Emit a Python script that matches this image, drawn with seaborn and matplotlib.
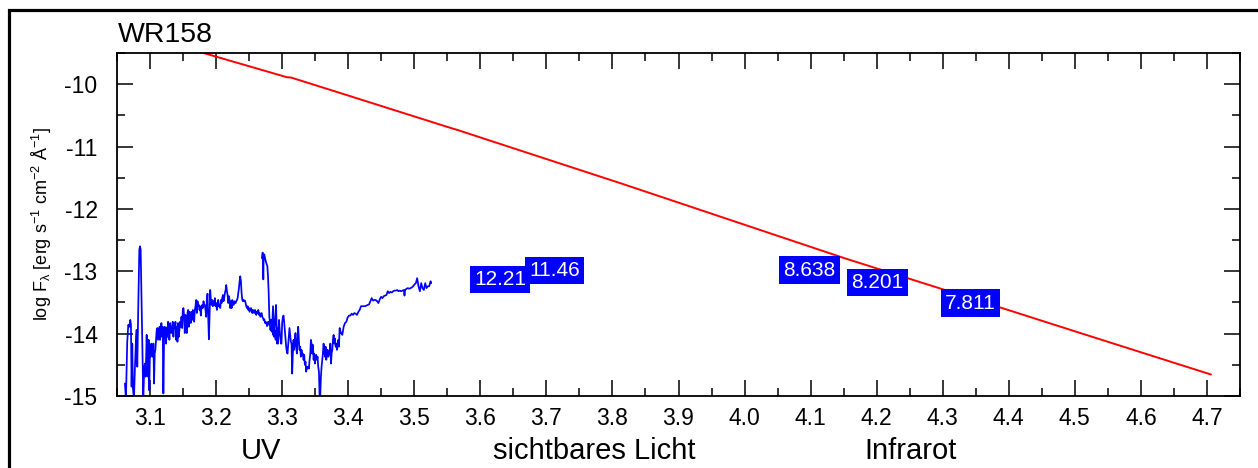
import numpy as np
import pandas as pd
import matplotlib
matplotlib.use("Agg")
import matplotlib.pyplot as plt
import seaborn as sns
from matplotlib.ticker import MultipleLocator
from matplotlib.patches import Rectangle

# ---------------- data ----------------
TITLE = "WR158"
REGION_LABELS = ["UV", "sichtbares Licht", "Infrarot"]
REGION_X = [3.2675, 3.772, 4.252]

# model continuum (red)
MODEL_LOGLAM = [3.181, 3.307, 3.314, 3.397, 3.560, 3.563, 3.817, 4.152, 4.384, 4.520, 4.706]
MODEL_LOGF = [-9.50, -9.888, -9.895, -10.172, -10.718, -10.726, -11.605, -12.793, -13.57, -14.03, -14.655]

# photometry labels (magnitudes)
PHOT_LABELS = ["12.21", "11.46", "8.638", "8.201", "7.811"]
PHOT_LOGLAM = [3.630, 3.712, 4.098, 4.201, 4.342]
PHOT_LOGF = [-13.13, -12.99, -12.98, -13.18, -13.51]

# short-wavelength UV spectrum
SWP_LOGLAM = [3.062, 3.0635, 3.0655, 3.0671, 3.0686, 3.0701, 3.0711, 3.0721, 3.0731, 3.0741,
              3.0757, 3.0772, 3.0787, 3.0797, 3.0807, 3.0822, 3.0838, 3.0848, 3.0858, 3.0873,
              3.0888, 3.0898, 3.0913, 3.0924, 3.0934, 3.0949, 3.0959, 3.0969, 3.0979, 3.0989,
              3.1000,
              3.1010, 3.1020, 3.1030, 3.1040, 3.1051, 3.1061, 3.1071, 3.1081, 3.1091, 3.1101,
              3.1111, 3.1121, 3.1132, 3.1142, 3.1152, 3.1162, 3.1172, 3.1182, 3.1192, 3.1202,
              3.1213, 3.1223, 3.1233, 3.1243, 3.1253, 3.1263, 3.1273, 3.1283, 3.1293, 3.1304,
              3.1314, 3.1324, 3.1334, 3.1344, 3.1354, 3.1364, 3.1374, 3.1385, 3.1395, 3.1405,
              3.1415, 3.1425, 3.1435, 3.1445, 3.1455, 3.1466, 3.1476, 3.1486, 3.1496, 3.1506,
              3.1516, 3.1526, 3.1536, 3.1546, 3.1557, 3.1567, 3.1577, 3.1587, 3.1597, 3.1607,
              3.1617, 3.1627, 3.1638, 3.1648, 3.1658, 3.1668, 3.1678, 3.1688, 3.1698, 3.1708,
              3.1719, 3.1729, 3.1739, 3.1749, 3.1759, 3.1769, 3.1779, 3.1789, 3.1799, 3.1810,
              3.1820, 3.1830, 3.1840, 3.1850, 3.1860, 3.1870, 3.1880, 3.1891, 3.1901, 3.1911,
              3.1921, 3.1931, 3.1941, 3.1951, 3.1961, 3.1972, 3.1982, 3.1992, 3.2002, 3.2012,
              3.2022, 3.2032, 3.2042, 3.2052, 3.2063, 3.2073, 3.2083, 3.2093, 3.2103, 3.2113,
              3.2123, 3.2133, 3.2144, 3.2154, 3.2164, 3.2174, 3.2184, 3.2194, 3.2204, 3.2214,
              3.2225, 3.2235, 3.2245, 3.2255, 3.2265, 3.2275, 3.2285, 3.2295, 3.2305, 3.2316,
              3.2326, 3.2336, 3.2346, 3.2356, 3.2366, 3.2376, 3.2386, 3.2397, 3.2407, 3.2417,
              3.2427, 3.2437, 3.2447, 3.2457, 3.2467, 3.2478, 3.2488, 3.2498, 3.2508, 3.2518,
              3.2528, 3.2538, 3.2548, 3.2558, 3.2569, 3.2579, 3.2589, 3.2599, 3.2609, 3.2619,
              3.2629, 3.2639, 3.2650, 3.2660, 3.2670, 3.2680, 3.2690, 3.2700, 3.2710, 3.2720,
              3.2731, 3.2741, 3.2751, 3.2761, 3.2771, 3.2781, 3.2791, 3.2801, 3.2811, 3.2822,
              3.2832, 3.2842, 3.2852, 3.2862, 3.2872, 3.2882, 3.2892, 3.2903, 3.2913, 3.2923,
              3.2933]
SWP_LOGF = [-14.80, -15.05, -14.13, -13.86, -13.89, -13.78, -13.86, -14.85, -14.16, -14.88,
            -15.05, -14.53, -14.10, -13.94, -14.53, -13.56, -12.65, -12.60, -12.65, -13.56,
            -14.53, -15.05, -14.53, -14.48, -14.69, -14.02, -14.48, -14.69, -14.10, -14.91,
            -14.21,
            -14.37, -14.16, -14.32, -14.37, -14.16, -14.80, -14.32, -14.26, -14.10, -13.94,
            -13.91, -14.10, -13.99, -13.89, -14.10, -13.97, -13.83, -14.05, -13.89, -14.96,
            -14.05, -13.89, -13.91, -14.16, -13.90, -14.05, -13.81, -13.94, -14.10, -13.83,
            -13.94, -13.99, -13.89, -13.81, -14.05, -13.86, -13.91, -13.81, -14.10, -13.89,
            -14.13, -13.83, -14.05, -13.94, -13.81, -13.89, -13.73, -13.91, -13.62, -13.59,
            -13.73, -13.99, -13.70, -13.78, -13.99, -13.67, -13.62, -13.89, -13.65, -13.75,
            -13.83, -13.65, -13.78, -13.62, -13.70, -13.81, -13.62, -13.56, -13.46, -13.67,
            -13.48, -13.56, -13.54, -13.62, -13.56, -13.71, -13.59, -13.54, -13.59, -13.48,
            -13.56, -13.54, -13.62, -13.73, -13.46, -13.36, -13.73, -14.09, -13.73, -13.30,
            -13.46, -13.54, -13.46, -13.56, -13.48, -13.54, -13.43, -13.56, -13.51, -13.62,
            -13.54, -13.46, -13.56, -13.54, -13.59, -13.46, -13.51, -13.43, -13.38, -13.48,
            -13.43, -13.35, -13.30, -13.22, -13.32, -13.38, -13.51, -13.40, -13.46, -13.59,
            -13.48, -13.59, -13.46, -13.51, -13.54, -13.48, -13.51, -13.51, -13.48, -13.46,
            -13.43, -13.35, -13.27, -13.16, -13.08, -13.16, -13.35, -13.46, -13.48, -13.46,
            -13.48, -13.47, -13.51, -13.56, -13.59, -13.56, -13.62, -13.59, -13.65, -13.62,
            -13.59, -13.62, -13.67, -13.62, -13.65, -13.67, -13.62, -13.65, -13.70, -13.65,
            -13.67, -13.62, -13.70, -13.67, -13.73, -13.70, -13.67, -13.73, -13.75, -13.78,
            -13.77, -13.83, -13.81, -13.83, -13.88, -13.82, -13.81, -13.86, -13.81, -13.94,
            -13.89, -13.97, -13.83, -14.02, -13.86, -13.94, -14.05, -14.10, -13.94, -14.16,
            -13.91]

# long-wavelength UV spectrum
LWP_LOGLAM = [3.2695, 3.2705, 3.2715, 3.2720, 3.2730, 3.2745, 3.2760, 3.2776, 3.2786, 3.2796,
              3.2806, 3.2816, 3.2831, 3.2847, 3.2862, 3.2877, 3.2892, 3.2907, 3.2922, 3.2937,
              3.2953, 3.2968, 3.2983,
              3.2990, 3.3000, 3.3010, 3.3020, 3.3030, 3.3040, 3.3051, 3.3061, 3.3071, 3.3081,
              3.3091, 3.3101, 3.3111, 3.3121, 3.3132, 3.3142, 3.3152, 3.3162, 3.3172, 3.3182,
              3.3192, 3.3202, 3.3213, 3.3223, 3.3233, 3.3243, 3.3253, 3.3263, 3.3273, 3.3283,
              3.3293, 3.3304, 3.3314, 3.3324, 3.3334, 3.3344, 3.3354, 3.3364, 3.3374, 3.3385,
              3.3395, 3.3405, 3.3415, 3.3425, 3.3435, 3.3445, 3.3455, 3.3466, 3.3476, 3.3486,
              3.3496, 3.3506, 3.3516, 3.3526, 3.3536, 3.3546, 3.3557, 3.3567, 3.3577, 3.3587,
              3.3597, 3.3607, 3.3617, 3.3627, 3.3638, 3.3648, 3.3658, 3.3668, 3.3678, 3.3688,
              3.3698, 3.3708, 3.3719, 3.3729, 3.3739, 3.3749, 3.3759, 3.3769, 3.3779, 3.3789,
              3.3800, 3.3810, 3.3820, 3.3830, 3.3840, 3.3850, 3.3860,
              3.3870, 3.3891, 3.3911, 3.3931, 3.3951, 3.3972, 3.3992, 3.4012, 3.4032, 3.4052,
              3.4073, 3.4093, 3.4113, 3.4133, 3.4154, 3.4174, 3.4194, 3.4214, 3.4235, 3.4255,
              3.4275, 3.4295, 3.4316, 3.4336, 3.4356, 3.4376, 3.4397, 3.4417, 3.4437, 3.4457,
              3.4478, 3.4498, 3.4518, 3.4538, 3.4558, 3.4579, 3.4599, 3.4619, 3.4639, 3.4660,
              3.4680, 3.4700, 3.4720, 3.4741, 3.4761, 3.4781, 3.4801, 3.4822, 3.4842, 3.4852,
              3.4862, 3.4882, 3.4903, 3.4923, 3.4943, 3.4963, 3.4984, 3.5004, 3.5024, 3.5044,
              3.5064, 3.5085, 3.5105, 3.5125, 3.5145, 3.5166, 3.5186, 3.5206, 3.5226, 3.5247,
              3.5257]
LWP_LOGF = [-12.79, -12.70, -13.13, -12.76, -12.73, -12.81, -12.87, -12.92, -13.08, -13.35,
            -13.73, -13.83, -13.78, -13.94, -13.56, -14.05, -13.83, -13.54, -14.05, -14.16,
            -13.78, -14.02, -14.16,
            -14.16, -13.83, -13.74, -13.71, -13.81, -13.94, -14.10, -14.21, -14.29, -14.32,
            -14.18, -14.05, -13.91, -14.02, -14.13, -14.16, -14.64, -14.32, -14.10, -14.26,
            -14.10, -13.99, -14.21, -14.32, -14.10, -13.89, -14.10, -14.26, -14.21, -14.37,
            -14.26, -14.34, -14.32, -14.42, -14.34, -14.50, -14.45, -14.61, -14.53, -14.56,
            -14.53, -14.56, -14.42, -14.34, -14.10, -14.16, -14.32, -14.18, -14.42, -14.32,
            -14.48, -14.37, -14.34, -14.42, -14.37, -14.53, -14.61, -15.02, -14.99, -14.69,
            -14.53, -14.42, -14.32, -14.16, -14.26, -14.37, -14.21, -14.42, -14.32, -14.26,
            -14.37, -14.34, -14.29, -14.16, -14.48, -14.32, -14.26, -14.10, -14.02, -14.16,
            -14.08, -14.21, -14.16, -14.26, -14.18, -14.10, -14.21,
            -13.91, -13.99, -14.02, -13.89, -13.83, -13.81, -13.74, -13.71, -13.71, -13.68,
            -13.70, -13.67, -13.68, -13.70, -13.65, -13.62, -13.56, -13.56, -13.56, -13.56,
            -13.55, -13.54, -13.53, -13.48, -13.43, -13.47, -13.46, -13.46, -13.48, -13.51,
            -13.45, -13.41, -13.43, -13.40, -13.39, -13.38, -13.32, -13.35, -13.33, -13.34,
            -13.32, -13.31, -13.31, -13.30, -13.32, -13.31, -13.32, -13.31, -13.30, -13.39,
            -13.30, -13.28, -13.27, -13.28, -13.27, -13.26, -13.24, -13.21, -13.19, -13.11,
            -13.24, -13.32, -13.19, -13.27, -13.30, -13.19, -13.27, -13.24, -13.24, -13.16,
            -13.19]

# ---------------- style ----------------
sns.set_style("ticks")
plt.rcParams["font.family"] = ["Liberation Sans", "DejaVu Sans"]
plt.rcParams["mathtext.fontset"] = "custom"
plt.rcParams["mathtext.rm"] = "Liberation Sans"
plt.rcParams["mathtext.it"] = "Liberation Sans"
plt.rcParams["mathtext.default"] = "regular"
plt.rcParams["axes.unicode_minus"] = False
plt.rcParams["text.color"] = "black"
plt.rcParams["axes.labelcolor"] = "black"
plt.rcParams["xtick.color"] = "black"
plt.rcParams["ytick.color"] = "black"

W, H = 1258, 468
fig = plt.figure(figsize=(W / 100, H / 100), dpi=100)
ax = fig.add_axes([117 / W, 1 - 396 / H, (1240 - 117) / W, (396 - 53) / H])

swp = pd.DataFrame({"loglam": SWP_LOGLAM, "logf": SWP_LOGF})
lwp = pd.DataFrame({"loglam": LWP_LOGLAM, "logf": LWP_LOGF})
model = pd.DataFrame({"loglam": MODEL_LOGLAM, "logf": MODEL_LOGF})

sns.lineplot(data=swp, x="loglam", y="logf", ax=ax, color="#0000ff", lw=1.25,
             sort=False, estimator=None)
sns.lineplot(data=lwp, x="loglam", y="logf", ax=ax, color="#0000ff", lw=1.25,
             sort=False, estimator=None)
sns.lineplot(data=model, x="loglam", y="logf", ax=ax, color="#ff0000", lw=1.4,
             sort=False, estimator=None)

for lab, xv, yv in zip(PHOT_LABELS, PHOT_LOGLAM, PHOT_LOGF):
    ax.text(xv, yv, lab, color="white", fontsize=15, ha="center", va="center",
            bbox=dict(boxstyle="square,pad=0.2", facecolor="#0000ff", edgecolor="none"))

ax.set_xlim(3.05, 4.75)
ax.set_ylim(-15, -9.5)
ax.xaxis.set_major_locator(MultipleLocator(0.1))
ax.xaxis.set_minor_locator(MultipleLocator(0.05))
ax.yaxis.set_major_locator(MultipleLocator(1))
ax.yaxis.set_minor_locator(MultipleLocator(0.5))
ax.xaxis.set_major_formatter(matplotlib.ticker.FormatStrFormatter("%.1f"))
ax.yaxis.set_major_formatter(matplotlib.ticker.FormatStrFormatter("%d"))

ax.tick_params(which="both", direction="in", top=True, right=True, color="black", width=1.1)
ax.tick_params(which="major", length=11.5)
ax.tick_params(which="minor", length=5.8)
ax.tick_params(axis="x", which="major", labelsize=16.5, pad=8, labelcolor="black")
ax.tick_params(axis="y", which="major", labelsize=16.5, pad=14, labelcolor="black")
for sp in ax.spines.values():
    sp.set_linewidth(1.3)
    sp.set_color("black")

ax.set_xlabel("")
ax.set_ylabel(r"log F$_{\lambda}$ [erg s$^{-1}$ cm$^{-2}$ Å$^{-1}$]", fontsize=13)
ax.yaxis.set_label_coords((54 - 117) / (1240 - 117), 0.5)

trans = matplotlib.transforms.blended_transform_factory(ax.transData, ax.transAxes)
for lab, xv in zip(REGION_LABELS, REGION_X):
    ax.text(xv, (396 - 451) / (396 - 53), lab, transform=trans, fontsize=21,
            ha="center", va="center")

fig.text(118 / W, 1 - 42 / H, TITLE, fontsize=20.5, ha="left", va="baseline")

fig.patches.append(Rectangle((9 / W, -0.2), 1.2, 1 - 10 / H + 0.2, transform=fig.transFigure,
                             fill=False, edgecolor="black", linewidth=2.3))

fig.savefig("out.png", dpi=100)
